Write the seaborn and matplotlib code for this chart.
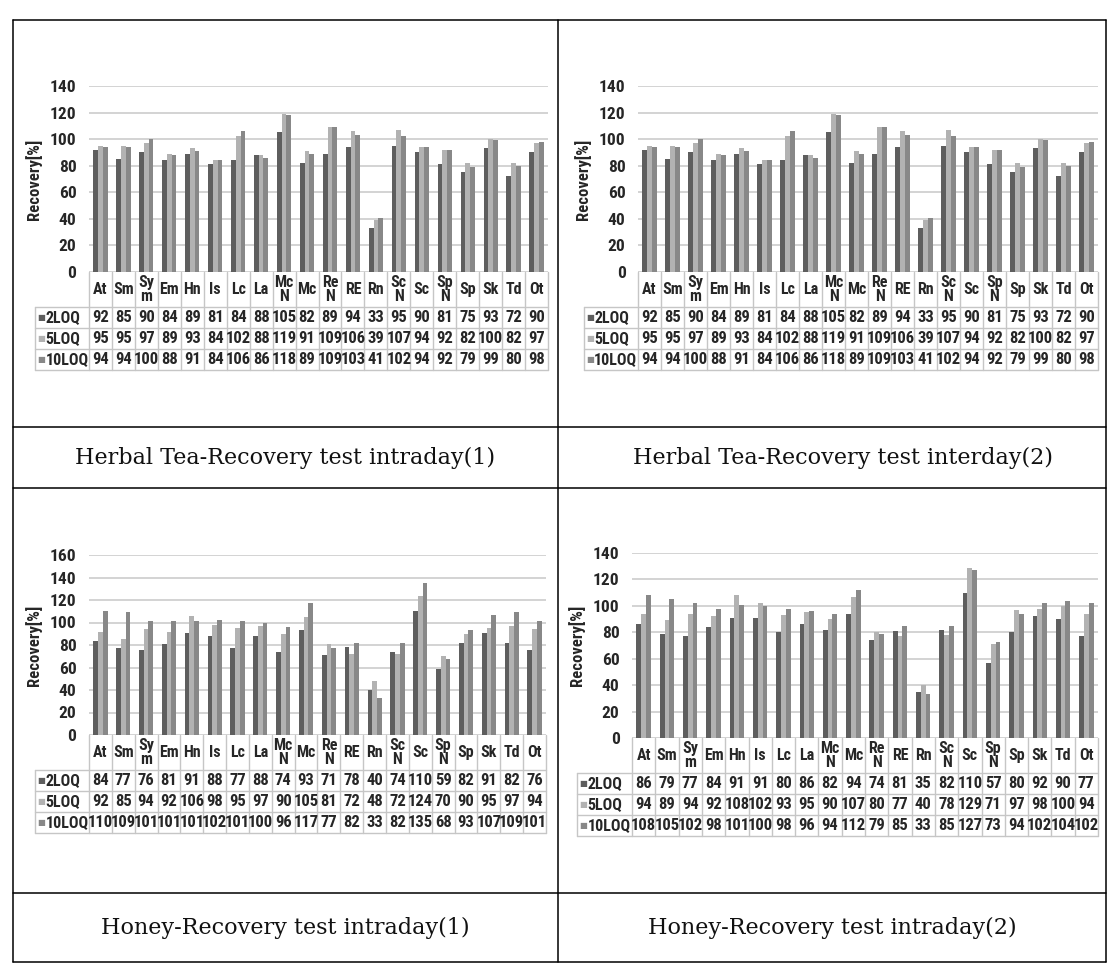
import numpy as np
import pandas as pd
import seaborn as sns
import matplotlib.pyplot as plt
from matplotlib import font_manager
from matplotlib.transforms import blended_transform_factory

categories = ["At", "Sm", "Sym", "Em", "Hn", "Is", "Lc", "La", "McN", "Mc",
              "ReN", "RE", "Rn", "ScN", "Sc", "SpN", "Sp", "Sk", "Td", "Ot"]
series = ["2LOQ", "5LOQ", "10LOQ"]

tea_2loq = [92, 85, 90, 84, 89, 81, 84, 88, 105, 82, 89, 94, 33, 95, 90, 81, 75, 93, 72, 90]
tea_5loq = [95, 95, 97, 89, 93, 84, 102, 88, 119, 91, 109, 106, 39, 107, 94, 92, 82, 100, 82, 97]
tea_10loq = [94, 94, 100, 88, 91, 84, 106, 86, 118, 89, 109, 103, 41, 102, 94, 92, 79, 99, 80, 98]

honey1_2loq = [84, 77, 76, 81, 91, 88, 77, 88, 74, 93, 71, 78, 40, 74, 110, 59, 82, 91, 82, 76]
honey1_5loq = [92, 85, 94, 92, 106, 98, 95, 97, 90, 105, 81, 72, 48, 72, 124, 70, 90, 95, 97, 94]
honey1_10loq = [110, 109, 101, 101, 101, 102, 101, 100, 96, 117, 77, 82, 33, 82, 135, 68, 93, 107, 109, 101]

honey2_2loq = [86, 79, 77, 84, 91, 91, 80, 86, 82, 94, 74, 81, 35, 82, 110, 57, 80, 92, 90, 77]
honey2_5loq = [94, 89, 94, 92, 108, 102, 93, 95, 90, 107, 80, 77, 40, 78, 129, 71, 97, 98, 100, 94]
honey2_10loq = [108, 105, 102, 98, 101, 100, 98, 96, 94, 112, 79, 85, 33, 85, 127, 73, 94, 102, 104, 102]

captions = ["Herbal Tea-Recovery test intraday(1)",
            "Herbal Tea-Recovery test interday(2)",
            "Honey-Recovery test intraday(1)",
            "Honey-Recovery test intraday(2)"]
y_max = [140, 140, 160, 140]

colors = ["#5e5e5e", "#b2b2b2", "#888888"]


def pick_font(cands):
    for c in cands:
        try:
            font_manager.findfont(font_manager.FontProperties(family=c), fallback_to_default=False)
            return c
        except ValueError:
            pass
    return "DejaVu Sans"


sns.set_style("white")
narrow = pick_font(["Liberation Sans Narrow", "Roboto Condensed", "Open Sans Condensed", "Liberation Sans"])
plt.rcParams["font.family"] = [narrow, "DejaVu Sans"]

W, H = 1115, 971
fig = plt.figure(figsize=(W / 100, H / 100), dpi=100)

# outer table of the page
bg = fig.add_axes([0, 0, 1, 1])
bg.set_xlim(0, W)
bg.set_ylim(H, 0)
bg.axis("off")
for x in [13, 558, 1106]:
    bg.plot([x, x], [20, 962], color="black", lw=1.1)
for y in [20, 427, 488, 893, 962]:
    bg.plot([13, 1106], [y, y], color="black", lw=1.1)

cap_pos = [(285, 458), (843, 458), (285, 928), (832, 928)]
for (cx, cy), txt in zip(cap_pos, captions):
    bg.text(cx, cy, txt, ha="center", va="center", fontsize=16,
            family=["DejaVu Serif"], color="#111111")

# left, right, top, bottom of each plot area in pixels
boxes = [(89, 548, 86, 272), (638, 1098, 86, 272),
         (89, 546, 555, 735), (632, 1098, 553, 738)]
data_sets = [(tea_2loq, tea_5loq, tea_10loq),
             (tea_2loq, tea_5loq, tea_10loq),
             (honey1_2loq, honey1_5loq, honey1_10loq),
             (honey2_2loq, honey2_5loq, honey2_10loq)]

hdr_px = 35
row_px = 21
lab_cols = 2.35

for (l, r, t, b), vals, ymax in zip(boxes, data_sets, y_max):
    ax = fig.add_axes([l / W, 1 - b / H, (r - l) / W, (b - t) / H])
    df = pd.DataFrame({
        "cat": categories * 3,
        "series": np.repeat(series, len(categories)),
        "value": np.concatenate(vals),
    })
    sns.barplot(data=df, x="cat", y="value", hue="series", order=categories,
                hue_order=series, palette=colors, width=0.62, saturation=1,
                linewidth=0, legend=False, ax=ax)
    ax.set_xlim(-0.5, len(categories) - 0.5)
    ax.set_ylim(0, ymax)
    ax.set_yticks(np.arange(0, ymax + 1, 20))
    ax.yaxis.grid(True, color="#d0d0d0", lw=1.3)
    ax.set_axisbelow(True)
    ax.set_xticks([])
    ax.set_xlabel("")
    ax.tick_params(axis="y", length=0, pad=9)
    for lab in ax.get_yticklabels():
        lab.set_fontsize(12.5)
        lab.set_fontweight("bold")
    ax.set_ylabel("Recovery[%]", fontsize=12, fontweight="bold")
    ax.yaxis.set_label_coords(-47 / (r - l), 0.5)
    sns.despine(ax=ax, left=True, bottom=True)

    # data table under the axis
    ah = b - t
    tr = blended_transform_factory(ax.transData, ax.transAxes)
    n = len(categories)
    y_hdr = -hdr_px / ah
    y_rows = [-(hdr_px + k * row_px) / ah for k in range(4)]
    lc = "#c6c6c6"
    for i in range(n + 1):
        ax.plot([i - 0.5, i - 0.5], [0, y_rows[-1]], transform=tr, color=lc,
                lw=1, clip_on=False)
    ax.plot([-0.5 - lab_cols] * 2, [y_hdr, y_rows[-1]], transform=tr, color=lc,
            lw=1, clip_on=False)
    for yy in y_rows:
        ax.plot([-0.5 - lab_cols, n - 0.5], [yy, yy], transform=tr, color=lc,
                lw=1, clip_on=False)
    for i, c in enumerate(categories):
        lab = c if len(c) <= 2 else c[:2] + "\n" + c[2:]
        ax.text(i, y_hdr / 2, lab, transform=tr, ha="center", va="center",
                fontsize=11.5, fontweight="bold", linespacing=0.9, clip_on=False)
    for k, (s, v, col) in enumerate(zip(series, vals, colors)):
        yc = (y_rows[k] + y_rows[k + 1]) / 2
        ax.text(-0.5 - lab_cols + 0.08, yc, "■", transform=tr, ha="left",
                va="center", fontsize=6, color=col, family=["DejaVu Sans"],
                clip_on=False)
        ax.text(-0.5 - lab_cols + 0.45, yc, s, transform=tr, ha="left",
                va="center", fontsize=11.5, fontweight="bold", clip_on=False)
        for i, num in enumerate(v):
            ax.text(i, yc, str(num), transform=tr, ha="center", va="center",
                    fontsize=12, fontweight="bold", clip_on=False)

fig.savefig("out.png", dpi=100)
